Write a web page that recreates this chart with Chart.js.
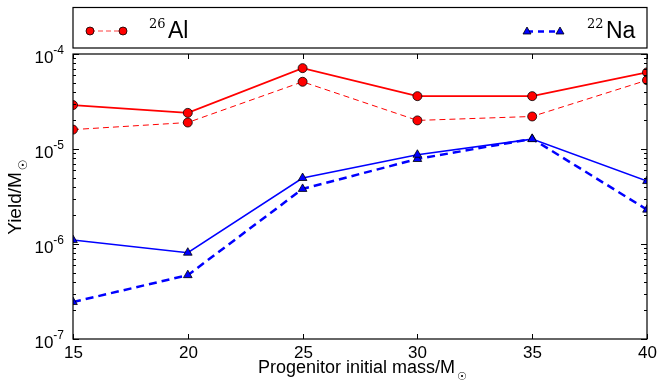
<!DOCTYPE html>
<html>
<head>
<meta charset="utf-8">
<script src="https://cdn.jsdelivr.net/npm/chart.js@4/dist/chart.umd.min.js"></script>
<style>
  html, body { margin: 0; padding: 0; background: #fff; }
  #wrap { width: 658px; height: 381px; position: relative; }
</style>
</head>
<body>
<div id="wrap"><canvas id="yieldChart"></canvas></div>
<script>
// progenitor masses (M_sun)
const masses = [15, 20, 25, 30, 35, 40];
// yields per series
const al26Solid  = [2.9e-5, 2.4e-5, 7.1e-5, 3.6e-5, 3.6e-5, 6.4e-5];
const al26Dashed = [1.6e-5, 1.9e-5, 5.1e-5, 2.0e-5, 2.2e-5, 5.3e-5];
const na22Solid  = [1.1e-6, 8.1e-7, 4.95e-6, 8.7e-6, 1.27e-5, 4.6e-6];
const na22Dashed = [2.45e-7, 4.7e-7, 3.8e-6, 7.85e-6, 1.28e-5, 2.3e-6];
// axis ticks
const xTicks = [15, 20, 25, 30, 35, 40];
const yExponents = [-7, -6, -5, -4];

const SANS = '"Liberation Sans", Arial, sans-serif';
const SERIF = '"DejaVu Serif", serif';

function pts(ys) {
    return masses.map((m, i) => ({ x: m, y: ys[i] }));
}

// Frame, ticks, tick labels, axis titles and the legend box
const decorPlugin = {
    id: 'decor',
    afterDraw(chart) {
        const ctx = chart.ctx;
        const a = chart.chartArea;
        const xs = chart.scales.x, ys = chart.scales.y;
        ctx.save();
        ctx.strokeStyle = '#000';
        ctx.lineWidth = 1.2;
        ctx.strokeRect(a.left, a.top, a.right - a.left, a.bottom - a.top);

        // x ticks (inward, top and bottom)
        ctx.lineWidth = 1;
        ctx.fillStyle = '#000';
        ctx.font = '17px ' + SANS;
        ctx.textAlign = 'center';
        ctx.textBaseline = 'alphabetic';
        xTicks.forEach(v => {
            const px = Math.round(xs.getPixelForValue(v)) + 0.5;
            ctx.beginPath();
            ctx.moveTo(px, a.bottom); ctx.lineTo(px, a.bottom - 5);
            ctx.moveTo(px, a.top); ctx.lineTo(px, a.top + 5);
            ctx.stroke();
            ctx.fillText(String(v), px, a.bottom + 19);
        });

        // y ticks: majors and minors on both sides
        yExponents.forEach((e, idx) => {
            const py = Math.round(ys.getPixelForValue(Math.pow(10, e))) + 0.5;
            ctx.beginPath();
            ctx.moveTo(a.left, py); ctx.lineTo(a.left + 6, py);
            ctx.moveTo(a.right, py); ctx.lineTo(a.right - 6, py);
            ctx.stroke();
            if (idx < yExponents.length - 1) {
                for (let k = 2; k <= 9; k++) {
                    const my = Math.round(ys.getPixelForValue(k * Math.pow(10, e))) + 0.5;
                    ctx.beginPath();
                    ctx.moveTo(a.left, my); ctx.lineTo(a.left + 3, my);
                    ctx.moveTo(a.right, my); ctx.lineTo(a.right - 3, my);
                    ctx.stroke();
                }
            }
            // label 10^e
            ctx.textAlign = 'right';
            ctx.font = '12px ' + SANS;
            const sup = String(e);
            const supW = ctx.measureText(sup).width;
            ctx.fillText(sup, a.left - 9, py - 1);
            ctx.font = '17px ' + SANS;
            ctx.fillText('10', a.left - 9 - supW, py + 8);
        });

        // x axis title
        ctx.font = '18px ' + SANS;
        ctx.textAlign = 'left';
        const xt = 'Progenitor initial mass/M';
        const xtw = ctx.measureText(xt).width;
        const xStart = 258;
        ctx.fillText(xt, xStart, 373);
        ctx.font = '11px "DejaVu Sans", sans-serif';
        ctx.fillText('\u2609', xStart + xtw + 2, 380);

        // y axis title (rotated)
        ctx.save();
        ctx.translate(21, (a.top + a.bottom) / 2 + 2);
        ctx.rotate(-Math.PI / 2);
        ctx.font = '19px ' + SANS;
        const yt = 'Yield/M';
        const ytw = ctx.measureText(yt).width;
        ctx.fillText(yt, -(ytw + 10) / 2, 0);
        ctx.font = '12px "DejaVu Sans", sans-serif';
        ctx.fillText('\u2609', -(ytw + 10) / 2 + ytw + 2, 6);
        ctx.restore();

        // legend box, same width as the axes
        ctx.strokeStyle = '#000';
        ctx.lineWidth = 1.2;
        ctx.strokeRect(a.left, 7.5, a.right - a.left, 40.5);
        // 26Al entry
        ctx.strokeStyle = '#ff4040';
        ctx.lineWidth = 1;
        ctx.setLineDash([5, 3]);
        ctx.beginPath(); ctx.moveTo(90, 31); ctx.lineTo(123, 31); ctx.stroke();
        ctx.setLineDash([]);
        [90, 123].forEach(cx => {
            ctx.beginPath(); ctx.arc(cx, 31, 4, 0, Math.PI * 2);
            ctx.fillStyle = '#ff0000'; ctx.fill();
            ctx.strokeStyle = '#000'; ctx.lineWidth = 0.8; ctx.stroke();
        });
        ctx.fillStyle = '#000';
        ctx.font = '13px ' + SERIF;
        ctx.fillText('26', 149, 28);
        ctx.font = '23px ' + SANS;
        ctx.fillText('Al', 168, 38);
        // 22Na entry
        ctx.strokeStyle = '#0000ff';
        ctx.lineWidth = 2.5;
        ctx.setLineDash([6, 5]);
        ctx.beginPath(); ctx.moveTo(527, 31.5); ctx.lineTo(560, 31.5); ctx.stroke();
        ctx.setLineDash([]);
        [527, 560].forEach(cx => {
            ctx.beginPath();
            ctx.moveTo(cx, 27); ctx.lineTo(cx + 4, 34); ctx.lineTo(cx - 4, 34);
            ctx.closePath();
            ctx.fillStyle = '#0000ff'; ctx.fill();
            ctx.strokeStyle = '#000'; ctx.lineWidth = 0.8; ctx.stroke();
        });
        ctx.fillStyle = '#000';
        ctx.font = '13px ' + SERIF;
        ctx.fillText('22', 587, 28);
        ctx.font = '23px ' + SANS;
        ctx.fillText('Na', 606, 38);

        ctx.restore();
    }
};

new Chart(document.getElementById('yieldChart').getContext('2d'), {
    type: 'line',
    data: {
        datasets: [
            {
                label: 'Al26 solid',
                data: pts(al26Solid),
                borderColor: '#ff0000',
                borderWidth: 1.8,
                pointStyle: 'circle',
                pointRadius: 4.5,
                pointBackgroundColor: '#ff0000',
                pointBorderColor: '#000',
                pointBorderWidth: 0.8,
                clip: 0
            },
            {
                label: 'Al26 dashed',
                data: pts(al26Dashed),
                borderColor: '#ff0000',
                borderWidth: 1,
                borderDash: [6, 4],
                pointStyle: 'circle',
                pointRadius: 4.5,
                pointBackgroundColor: '#ff0000',
                pointBorderColor: '#000',
                pointBorderWidth: 0.8,
                clip: 0
            },
            {
                label: 'Na22 solid',
                data: pts(na22Solid),
                borderColor: '#0000ff',
                borderWidth: 1.5,
                pointStyle: 'triangle',
                pointRadius: 5,
                pointBackgroundColor: '#0000ff',
                pointBorderColor: '#000',
                pointBorderWidth: 0.8,
                clip: 0
            },
            {
                label: 'Na22 dashed',
                data: pts(na22Dashed),
                borderColor: '#0000ff',
                borderWidth: 2.5,
                borderDash: [8, 5],
                pointStyle: 'triangle',
                pointRadius: 5,
                pointBackgroundColor: '#0000ff',
                pointBorderColor: '#000',
                pointBorderWidth: 0.8,
                clip: 0
            }
        ]
    },
    options: {
        responsive: true,
        maintainAspectRatio: false,
        animation: false,
        layout: { padding: { left: 73, right: 11, top: 54, bottom: 42 } },
        plugins: {
            legend: { display: false },
            tooltip: { enabled: false }
        },
        scales: {
            x: { type: 'linear', min: 15, max: 40, display: false },
            y: { type: 'logarithmic', min: 1e-7, max: 1e-4, display: false }
        }
    },
    plugins: [decorPlugin]
});
</script>
</body>
</html>
